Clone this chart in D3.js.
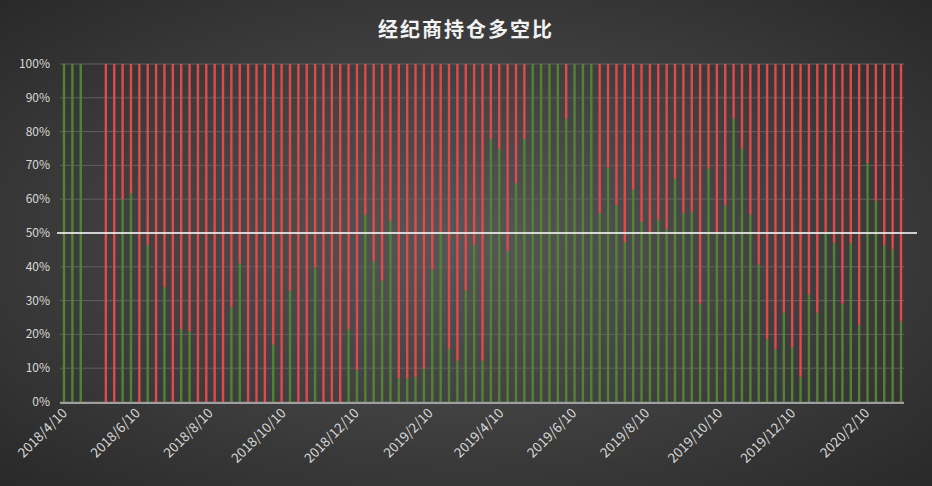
<!DOCTYPE html>
<html>
<head>
<meta charset="utf-8">
<script src="https://cdnjs.cloudflare.com/ajax/libs/d3/7.8.5/d3.min.js"></script>
<style>
  html, body { margin: 0; padding: 0; background: #333; }
  text { font-family: "Noto Sans CJK SC", "Noto Sans", sans-serif; }
</style>
</head>
<body>
<svg id="chart" width="932" height="486"></svg>
<script>
// weekly long ratio (%), null = no data that week
const startDate = "2018-04-10";
const longRatio = [
  100, 100, 100, null, null,
  0, 0, 60, 61.6, 0, 46.5, 0, 34, 0, 21.6, 20.9, 0, 0, 0, 0, 28, 41, 0, 0, 0, 17, 0, 32.9, 0, 0, 39.8, 0, 0, 0, 21.5,
  9.4, 55.4, 41.6, 35.9, 53.6, 7, 7, 7.4, 9.8, 39.2, 50.2, 15.7, 12.2, 33, 46.5, 12.2, 77.8, 74.9, 44.6, 64.7, 77.8,
  100, 100, 100, 100, 83.8, 100, 100, 100, 55.9, 69.4, 58.2, 47.3,
  62.8, 53.3, 50, 53.9, 51.2, 65.9, 55.9, 56.3, 29.1, 69, 50.2, 58.2, 83.8, 74.9, 55.4, 40.6, 18.5, 15.6, 26.4, 16.2,
  7.5, 31.7, 26.4, 50.2, 47, 29.1, 46.9, 22.8, 70.7, 59.4, 46.3, 45.1, 23.8
];
const tickLabels = ["2018/4/10", "2018/6/10", "2018/8/10", "2018/10/10", "2018/12/10", "2019/2/10",
  "2019/4/10", "2019/6/10", "2019/8/10", "2019/10/10", "2019/12/10", "2020/2/10"];
const yTicks = [0, 10, 20, 30, 40, 50, 60, 70, 80, 90, 100];

const parse = d3.timeParse("%Y/%m/%d");
const t0 = d3.timeParse("%Y-%m-%d")(startDate);
const data = longRatio.map((v, i) => ({ date: d3.timeDay.offset(t0, i * 7), v }))
  .filter(d => d.v !== null);

const svg = d3.select("#chart");
const defs = svg.append("defs");
const grad = defs.append("radialGradient").attr("id", "bg").attr("cx", "50%").attr("cy", "50%").attr("r", "75%");
grad.append("stop").attr("offset", "0%").attr("stop-color", "#575757");
grad.append("stop").attr("offset", "100%").attr("stop-color", "#262626");
svg.append("rect").attr("width", 932).attr("height", 486).attr("fill", "url(#bg)");

const x = d3.scaleTime().domain([t0, d3.timeDay.offset(t0, (longRatio.length - 1) * 7)]).range([64, 901]);
const y = d3.scaleLinear().domain([0, 100]).range([402, 64]);

svg.append("text").attr("x", 466).attr("y", 37).attr("text-anchor", "middle")
  .attr("fill", "#f2f2f2").attr("font-size", 20).attr("font-weight", "bold")
  .attr("letter-spacing", 2).text("经纪商持仓多空比");

// gridlines
svg.append("g").selectAll("line").data(yTicks).join("line")
  .attr("x1", 60).attr("x2", 904).attr("y1", d => y(d)).attr("y2", d => y(d))
  .attr("stroke", "#606060").attr("stroke-width", 1);

svg.append("g").selectAll("text").data(yTicks).join("text")
  .attr("x", 50).attr("y", d => y(d) + 4).attr("text-anchor", "end")
  .attr("fill", "#d9d9d9").attr("font-size", 12).text(d => d + "%");

// bars
const bw = 2.4;
const bars = svg.append("g");
bars.selectAll(".g").data(data).join("rect")
  .attr("x", d => x(d.date) - bw / 2).attr("width", bw)
  .attr("y", d => y(d.v)).attr("height", d => y(0) - y(d.v))
  .attr("fill", "#548235");
bars.selectAll(".r").data(data).join("rect")
  .attr("x", d => x(d.date) - bw / 2).attr("width", bw)
  .attr("y", y(100)).attr("height", d => y(d.v) - y(100))
  .attr("fill", "#e04a4a");

// axis line
svg.append("line").attr("x1", 60).attr("x2", 904).attr("y1", 403).attr("y2", 403)
  .attr("stroke", "#bfbfbf").attr("stroke-width", 1.5);

// 50% line
svg.append("line").attr("x1", 57).attr("x2", 917).attr("y1", y(50)).attr("y2", y(50))
  .attr("stroke", "#ffffff").attr("stroke-width", 1.3);

svg.append("g").selectAll("text").data(tickLabels).join("text")
  .attr("transform", d => `translate(${x(parse(d)) + 4},${414}) rotate(-45)`)
  .attr("text-anchor", "end").attr("fill", "#d9d9d9").attr("font-size", 13.5).text(d => d);
</script>
</body>
</html>
